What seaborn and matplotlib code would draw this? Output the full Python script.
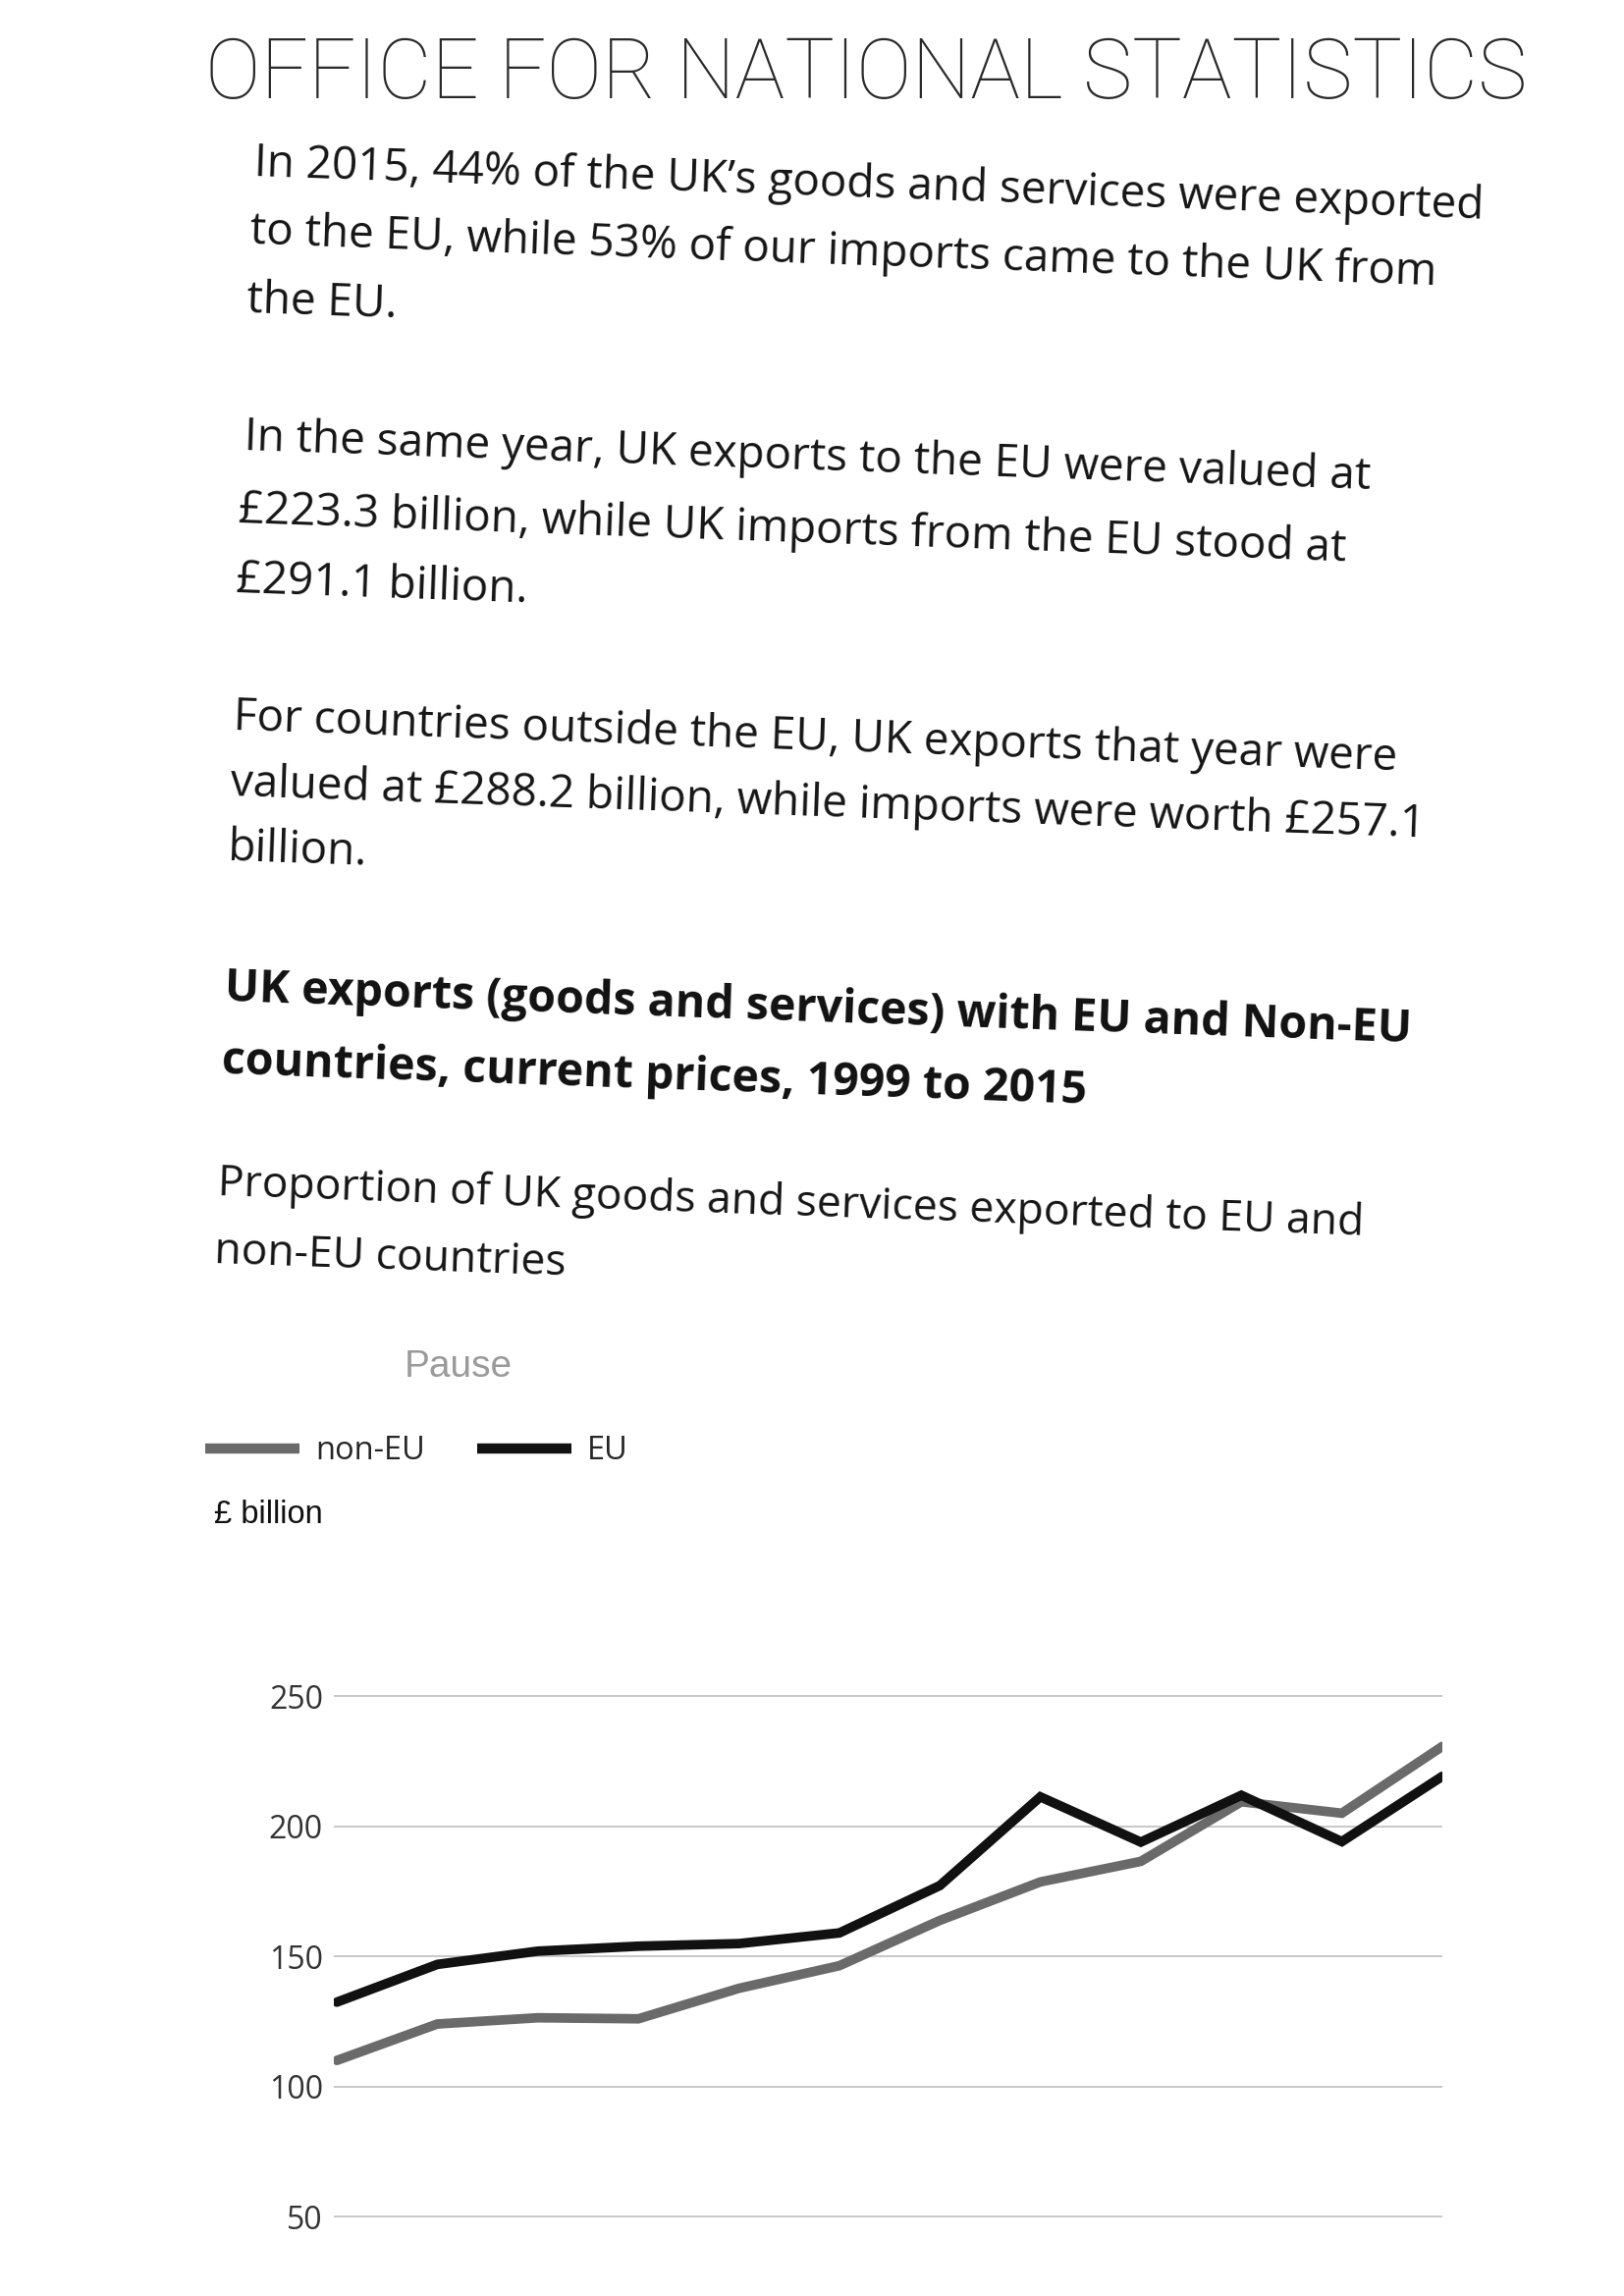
import pandas as pd
import seaborn as sns
import matplotlib.pyplot as plt

# values (the chart is cut by the page edge after 2010)
years = list(range(1999, 2011))
eu = [132.4, 146.9, 152.0, 153.9, 154.9, 159.0, 177.2, 211.3, 193.9, 211.9, 194.1, 219.2]
non_eu = [110.0, 124.0, 126.4, 126.0, 137.7, 146.4, 163.8, 178.6, 186.5, 209.4, 205.0, 230.7]
series_names = ['non-EU', 'EU']
y_ticks = [50, 100, 150, 200, 250]

para_lines = [
    "In 2015, 44% of the UK\u2019s goods and services were exported",
    "to the EU, while 53% of our imports came to the UK from",
    "the EU.",
    "In the same year, UK exports to the EU were valued at",
    "\u00a3223.3 billion, while UK imports from the EU stood at",
    "\u00a3291.1 billion.",
    "For countries outside the EU, UK exports that year were",
    "valued at \u00a3288.2 billion, while imports were worth \u00a3257.1",
    "billion.",
]
title_lines = [
    "UK exports (goods and services) with EU and Non-EU",
    "countries, current prices, 1999 to 2015",
]
subtitle_lines = [
    "Proportion of UK goods and services exported to EU and",
    "non-EU countries",
]

W, H = 1654, 2338


def fig_text(fig, x, y, s, **kw):
    fig.text(x / W, 1 - y / H, s, **kw)


def build_frame():
    df = pd.DataFrame({'year': years + years,
                       'value': non_eu + eu,
                       'series': [series_names[0]] * len(years) + [series_names[1]] * len(years)})
    return df


def main():
    sns.set_style('white')
    plt.rcParams['font.family'] = ['Open Sans', 'DejaVu Sans']

    fig = plt.figure(figsize=(W / 100, H / 100), dpi=100)

    # handwritten header
    fig_text(fig, 209, 100, "OFFICE FOR NATIONAL STATISTICS", fontsize=61,
             family=['Roboto', 'DejaVu Sans'], fontweight='light',
             color='#2a2a2a', ha='left', va='baseline')

    rot = -2.0
    para_pos = [(258, 179), (254, 248), (251, 318),
                (248, 458), (242, 532), (240, 603),
                (237, 743), (234, 810), (231, 876)]
    for (x, y), s in zip(para_pos, para_lines):
        fig_text(fig, x, y, s, fontsize=33, color='#151515', ha='left', va='baseline',
                 rotation=rot, rotation_mode='anchor')

    for (x, y), s in zip([(228, 1019), (225, 1093)], title_lines):
        fig_text(fig, x, y, s, fontsize=33.5, fontweight='bold', color='#111111', ha='left',
                 va='baseline', rotation=rot, rotation_mode='anchor')

    for (x, y), s in zip([(221, 1217), (218, 1286)], subtitle_lines):
        fig_text(fig, x, y, s, fontsize=32, color='#151515', ha='left', va='baseline',
                 rotation=rot, rotation_mode='anchor')

    fig_text(fig, 412, 1402, "Pause", fontsize=28, family=['Liberation Sans', 'DejaVu Sans'],
             color='#9a9a9a', ha='left', va='baseline')
    fig_text(fig, 218, 1551, "\u00a3 billion", fontsize=23.5, family=['Liberation Sans', 'DejaVu Sans'],
             color='#111111', ha='left', va='baseline')

    # chart
    ax = fig.add_axes([340 / W, 0.0006, (1469 - 340) / W, 0.272])
    df = build_frame()
    sns.lineplot(data=df, x='year', y='value', hue='series', hue_order=series_names,
                 palette={'non-EU': '#6a6a6a', 'EU': '#111111'}, linewidth=7,
                 solid_joinstyle='miter', ax=ax)

    ax.set_xlim(years[0] - 0.03, years[-1])
    ax.set_ylim(20, 260)
    ax.set_yticks(y_ticks)
    ax.set_xticks([])
    ax.set_xlabel('')
    ax.set_ylabel('')
    ax.yaxis.grid(True, color='#c8c8c8', linewidth=1.4)
    ax.xaxis.grid(False)
    ax.set_axisbelow(True)
    ax.tick_params(axis='y', length=0, pad=8, labelsize=23, labelcolor='#333333')
    sns.despine(ax=ax, left=True, bottom=True)
    ax.patch.set_alpha(0)

    old = ax.get_legend()
    handles = old.legend_handles
    labels = [t.get_text() for t in old.get_texts()]
    old.remove()
    for h in handles:
        h.set_linewidth(7.5)
        h.set_solid_capstyle('butt')
    fig.legend(handles, labels, loc='center left', bbox_to_anchor=(209 / W, 1 - 1478 / H),
               ncol=2, frameon=False, fontsize=23.5, handlelength=2.95, handletextpad=0.5,
               columnspacing=1.6, borderpad=0, borderaxespad=0)

    fig.savefig('out.png', dpi=100, facecolor='white')


if __name__ == "__main__":
    main()
